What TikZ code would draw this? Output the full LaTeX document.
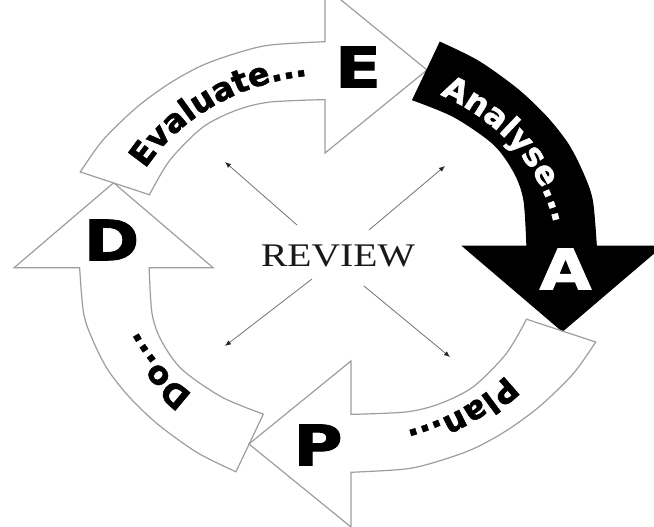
\documentclass[tikz,border=0pt]{standalone}
\usepackage{fontspec}
\usepackage{graphicx}
\usetikzlibrary{arrows.meta,decorations.text}
\newfontfamily\djv{DejaVu Sans}[BoldFeatures={FakeBold=1.5}]
\newfontfamily\lserif{Liberation Serif}
\newcommand\curvefont{\djv\bfseries\fontsize{32}{34}\selectfont}
\newcommand\bigfont{\djv\bfseries\fontsize{56}{60}\selectfont}
\newcommand\revfont{\lserif\fontsize{33}{36}\selectfont}
\newcommand\cycarrowpath{plot[smooth] coordinates {(158.4:231) (149.1:228.1) (138.2:224.8) (128.8:223.3) (120.4:222.5) (112.4:220.7) (104.97:219.4) (-10.8,215.3)} -- (-10.8,270) -- (74.2,187) -- (-10.8,104) -- (-10.8,157.4) -- plot[smooth] coordinates {(-10.8,157.4) (110.1:165) (119.8:169.4) (130.9:171.9) (145.3:170.3) (158.4:169)} -- cycle}
\tikzset{
  wharrow/.style={fill=white, draw=black!38, line width=1.2pt, line join=miter},
  blarrow/.style={fill=black, draw=black, line width=1pt, line join=miter},
  spoke/.style={draw=black!55, line width=0.8pt, -{Latex[length=6pt,width=5pt,color=black!85]}},
  bigletter/.style={font=\bigfont, inner sep=0pt},
  arctext/.style={decorate, decoration={text along path, text align=center, text={#1}}},
}
\newcommand\ellarc[3]{({224.4/187*#3*cos(#1)},{#3*sin(#1)}) arc[start angle=#1, end angle=#2, x radius={224.4/187*#3*1pt}, y radius={#3*1pt}]}
\begin{document}
\begin{tikzpicture}[x=1pt,y=1pt]
\useasboundingbox (-338,-270) rectangle (316,257);
\clip (-338,-270) rectangle (316,257);
\fill[white] (-338,-270) rectangle (316,257);
\begin{scope}[xscale=1.2]
  \begin{scope}[rotate=90]\path[wharrow] \cycarrowpath;\end{scope}
  \path[wharrow] \cycarrowpath;
  \begin{scope}[rotate=-90]\path[blarrow] \cycarrowpath;\end{scope}
  \begin{scope}[rotate=180]\path[wharrow] \cycarrowpath;\end{scope}
\end{scope}
% curved labels
\path[arctext={|\curvefont|Evaluate...}] \ellarc{157}{93}{183};
\path[arctext={|\curvefont\color{white}|Analyse...}] \ellarc{68}{4}{183};
\path[arctext={|\curvefont|Plan...}] \ellarc{-23}{-87}{183};
\path[arctext={|\curvefont|Do...}] \ellarc{247}{183}{183};
% big letters
\node[bigletter] (lE) at (20,190) {\scalebox{1.2}[1]{E}};
\node[bigletter, text=white] (lA) at (227.5,-12) {\scalebox{1.2}[1]{A}};
\node[bigletter] (lP) at (-20,-188) {\scalebox{1.2}[1]{P}};
\node[bigletter] (lD) at (-226.5,17) {\scalebox{1.2}[1]{D}};
% centre
\node[font=\revfont, text=black!90, inner sep=0pt] (review) at (0,1) {\scalebox{1.2}[1]{REVIEW}};
\coordinate (ul0) at (-41,32);  \coordinate (ul1) at (-113,95);
\coordinate (ur0) at (31,27);   \coordinate (ur1) at (107,91);
\coordinate (ll0) at (-26,-22); \coordinate (ll1) at (-113,-89);
\coordinate (lr0) at (26,-29);  \coordinate (lr1) at (112,-100);
\draw[spoke] (ul0) -- (ul1);
\draw[spoke] (ur0) -- (ur1);
\draw[spoke] (ll0) -- (ll1);
\draw[spoke] (lr0) -- (lr1);
\end{tikzpicture}
\end{document}
